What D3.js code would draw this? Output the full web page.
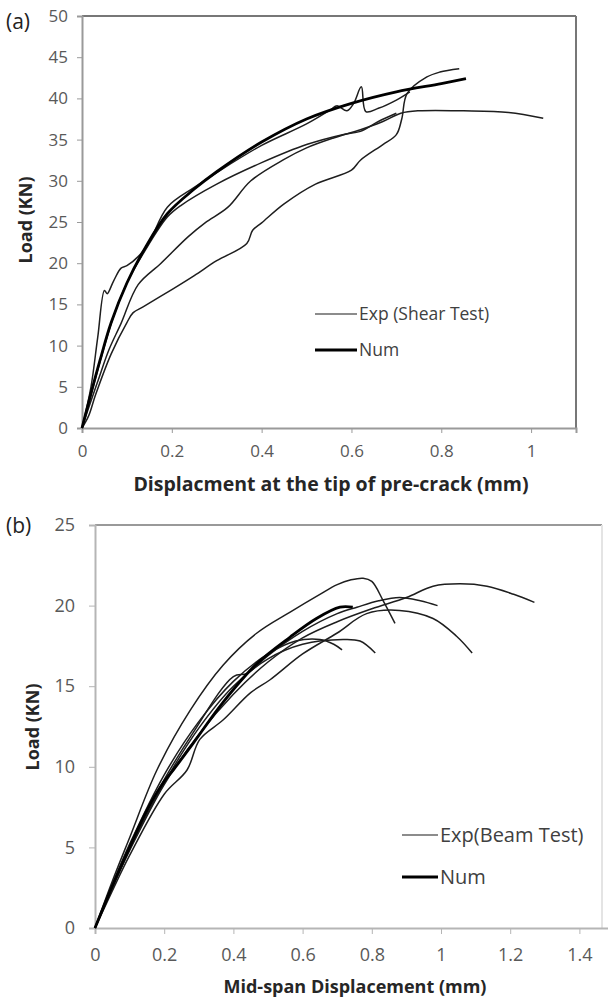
<!DOCTYPE html>
<html>
<head>
<meta charset="utf-8">
<script src="https://cdn.jsdelivr.net/npm/d3@7"></script>
<style>
  body { margin: 0; background: #fff; }
  text { font-family: "Open Sans", sans-serif; }
</style>
</head>
<body>
<svg id="chart"></svg>
<script>
// ---- panel (a): shear test, displacement at tip of pre-crack (mm) vs load (KN)
const shearNum = [[0,0],[0.02,4.2],[0.04,8.2],[0.065,12.8],[0.1,17.6],[0.14,21.8],[0.19,26.0],[0.25,29.0],[0.3,31.1],[0.4,34.7],[0.5,37.5],[0.6,39.4],[0.7,40.8],[0.8,41.8],[0.855,42.4]];
const shearExp1 = [[0,0],[0.02,5],[0.035,11],[0.05,16.7],[0.056,16.3],[0.07,17.8],[0.087,19.4],[0.1,19.7],[0.125,20.8],[0.15,22.6],[0.19,26.8],[0.25,29.2],[0.3,31],[0.4,34.3],[0.5,36.9],[0.553,38.6],[0.568,39.1],[0.59,38.5],[0.605,39.4],[0.622,41.4],[0.632,38.4],[0.66,38.8],[0.7,39.8],[0.73,40.8]];
const shearExp2 = [[0,0],[0.015,1.5],[0.03,4],[0.065,9],[0.1,12.8],[0.114,14],[0.136,14.7],[0.2,16.8],[0.25,18.5],[0.3,20.3],[0.367,22.4],[0.38,24],[0.4,24.9],[0.45,27.2],[0.52,29.6],[0.6,31.3],[0.62,32.5],[0.67,34.4],[0.7,35.6],[0.712,37.5],[0.724,40.6],[0.768,42.6],[0.797,43.2],[0.84,43.6]];
const shearExp3 = [[0,0],[0.015,2.5],[0.036,5.8],[0.06,9.5],[0.087,12.7],[0.125,17.4],[0.176,20],[0.236,23.2],[0.274,24.9],[0.325,26.8],[0.376,30],[0.45,32.6],[0.5,34],[0.56,35.2],[0.62,36.2],[0.67,37.2],[0.71,38.2],[0.75,38.5],[0.85,38.5],[0.95,38.3],[1.027,37.6]];
const shearExp4 = [[0,0],[0.02,4],[0.045,9],[0.07,13.5],[0.1,17.6],[0.14,21.5],[0.19,25.6],[0.22,27],[0.3,29.6],[0.4,32.2],[0.5,34.4],[0.58,35.6],[0.62,36],[0.66,37.2],[0.7,38.2]];
const shearXTicks = [0, 0.2, 0.4, 0.6, 0.8, 1];
const shearYTicks = [0, 5, 10, 15, 20, 25, 30, 35, 40, 45, 50];

// ---- panel (b): beam test, mid-span displacement (mm) vs load (KN)
const beamNum = [[0,0],[0.05,2.6],[0.1,5.0],[0.15,7.3],[0.2,9.1],[0.226,9.8],[0.275,11.2],[0.37,14.0],[0.468,16.4],[0.564,18.05],[0.64,19.2],[0.708,19.9],[0.745,19.9]];
const beamExp1 = [[0,0],[0.05,2.9],[0.1,5.6],[0.179,9.8],[0.275,13.5],[0.37,16.3],[0.468,18.3],[0.564,19.6],[0.65,20.7],[0.7,21.3],[0.74,21.6],[0.775,21.7],[0.8,21.5],[0.833,20.3],[0.867,18.9]];
const beamExp2 = [[0,0],[0.05,2.5],[0.1,4.8],[0.2,8.9],[0.3,12],[0.4,14.5],[0.5,16.5],[0.6,18],[0.7,19],[0.8,19.8],[0.9,20.5],[0.977,21.2],[1.055,21.35],[1.133,21.2],[1.21,20.7],[1.27,20.2]];
const beamExp3 = [[0,0],[0.05,2.6],[0.1,5.0],[0.2,9.2],[0.28,12],[0.4,15.6],[0.44,15.8],[0.5,16.9],[0.6,18.4],[0.7,19.5],[0.757,19.9],[0.82,20.3],[0.88,20.5],[0.94,20.3],[0.99,20.0]];
const beamExp4 = [[0,0],[0.05,2.3],[0.1,4.5],[0.2,8.3],[0.266,9.8],[0.303,11.7],[0.37,12.9],[0.45,14.6],[0.506,15.4],[0.6,17],[0.7,18.3],[0.785,19.5],[0.88,19.7],[0.977,19.2],[1.045,18.1],[1.09,17.06]];
const beamExp5 = [[0,0],[0.05,2.5],[0.1,4.9],[0.2,9.0],[0.3,12.4],[0.4,15.0],[0.5,16.7],[0.6,17.6],[0.717,17.9],[0.766,17.8],[0.81,17.06]];
const beamExp6 = [[0,0],[0.05,2.7],[0.1,5.2],[0.2,9.5],[0.3,12.8],[0.4,15.3],[0.5,17.0],[0.58,17.8],[0.65,17.9],[0.69,17.6],[0.714,17.25]];
const beamXTicks = [0, 0.2, 0.4, 0.6, 0.8, 1, 1.2, 1.4];
const beamYTicks = [0, 5, 10, 15, 20, 25];

const W = 608, H = 1000;
const svg = d3.select("#chart").attr("width", W).attr("height", H);

const fmt = d3.format("~f");

function drawPanel(p) {
  const g = svg.append("g");
  const x = d3.scaleLinear().domain(p.xDomain).range(p.xRange);
  const y = d3.scaleLinear().domain(p.yDomain).range(p.yRange);

  // frame (top / right)
  g.append("line")
    .attr("x1", p.xRange[0]).attr("x2", p.frameRight)
    .attr("y1", p.yRange[1]).attr("y2", p.yRange[1])
    .attr("stroke", p.frameColor).attr("stroke-width", 2);
  g.append("line")
    .attr("x1", p.frameRight).attr("x2", p.frameRight)
    .attr("y1", p.yRange[1]).attr("y2", p.yRange[0])
    .attr("stroke", p.rightColor).attr("stroke-width", 2);

  const yAxis = g.append("g")
    .attr("transform", `translate(${p.xRange[0]},0)`)
    .call(d3.axisLeft(y).tickValues(p.yTicks).tickSize(p.tick).tickPadding(p.yPad).tickFormat(fmt));
  const xAxis = g.append("g")
    .attr("transform", `translate(0,${p.yRange[0]})`)
    .call(d3.axisBottom(x).tickValues(p.xTicks).tickSize(p.tick).tickPadding(p.xPad).tickFormat(fmt));

  [yAxis, xAxis].forEach(a => {
    a.select(".domain").attr("stroke", p.axisColor).attr("stroke-width", 2);
    a.selectAll(".tick line").attr("stroke", p.axisColor).attr("stroke-width", 1);
    a.selectAll(".tick text")
      .attr("fill", "#595959")
      .attr("font-size", p.tickFont)
      .attr("font-family", "Open Sans, sans-serif");
  });

  const line = d3.line()
    .x(d => x(d[0]))
    .y(d => y(d[1]))
    .curve(d3.curveCatmullRom.alpha(0.5));

  g.selectAll("path.exp")
    .data(p.exp)
    .enter()
    .append("path")
    .attr("class", "exp")
    .attr("d", d => line(d))
    .attr("fill", "none")
    .attr("stroke", "#1e1e1e")
    .attr("stroke-width", 1.5);

  g.append("path")
    .attr("d", line(p.num))
    .attr("fill", "none")
    .attr("stroke", "#000")
    .attr("stroke-width", 2.8);

  // legend
  const lg = g.append("g").attr("transform", `translate(${p.legend[0]},${p.legend[1]})`);
  lg.append("line").attr("x1", 0).attr("x2", p.legendLen).attr("y1", 0).attr("y2", 0)
    .attr("stroke", "#666").attr("stroke-width", 1.6);
  lg.append("text").attr("x", p.legendLen + 2).attr("y", 0).attr("dy", "0.35em")
    .attr("font-size", p.legendFont).attr("fill", "#404040").text(p.expLabel);
  lg.append("line").attr("x1", 0).attr("x2", p.legendLen).attr("y1", p.legendGap).attr("y2", p.legendGap)
    .attr("stroke", "#000").attr("stroke-width", 3);
  lg.append("text").attr("x", p.legendLen + 2).attr("y", p.legendGap).attr("dy", "0.35em")
    .attr("font-size", p.legendFont).attr("fill", "#404040").text("Num");

  // titles
  g.append("text")
    .attr("x", p.xTitle[0]).attr("y", p.xTitle[1])
    .attr("text-anchor", "middle")
    .attr("font-weight", "bold").attr("font-size", p.xTitleFont).attr("fill", "#262626")
    .text(p.xLabel);
  g.append("text")
    .attr("transform", `translate(${p.yTitle[0]},${p.yTitle[1]}) rotate(-90)`)
    .attr("text-anchor", "middle")
    .attr("font-weight", "bold").attr("font-size", 18).attr("fill", "#262626")
    .text("Load (KN)");
  g.append("text")
    .attr("x", 6).attr("y", p.tag[1])
    .attr("font-size", 21).attr("fill", "#222")
    .text(p.tagText);
}

drawPanel({
  xDomain: [0, 1.1], xRange: [82, 576],
  yDomain: [0, 50], yRange: [428, 16],
  frameRight: 576, frameColor: "#777", rightColor: "#777", axisColor: "#9a9a9a",
  xTicks: shearXTicks, yTicks: shearYTicks,
  tick: 5, yPad: 9, xPad: 12, tickFont: 17,
  exp: [shearExp1, shearExp2, shearExp3, shearExp4], num: shearNum,
  legend: [315, 314], legendLen: 42, legendGap: 36, legendFont: 17.5,
  expLabel: "Exp (Shear Test)",
  xLabel: "Displacment at the tip of pre-crack (mm)", xTitle: [331, 491], xTitleFont: 19.5,
  yTitle: [32, 220],
  tag: [6, 29], tagText: "(a)"
});

drawPanel({
  xDomain: [0, 1.5], xRange: [95, 614],
  yDomain: [0, 25], yRange: [928, 525],
  frameRight: 602, frameColor: "#999", rightColor: "#e4e4e4", axisColor: "#b5b5b5",
  xTicks: beamXTicks, yTicks: beamYTicks,
  tick: 6, yPad: 14, xPad: 14, tickFont: 18,
  exp: [beamExp1, beamExp2, beamExp3, beamExp4, beamExp5, beamExp6], num: beamNum,
  legend: [402, 835], legendLen: 36, legendGap: 42, legendFont: 20,
  expLabel: "Exp(Beam Test)",
  xLabel: "Mid-span Displacement (mm)", xTitle: [355, 993], xTitleFont: 18,
  yTitle: [39, 727],
  tag: [6, 533], tagText: "(b)"
});
</script>
</body>
</html>
